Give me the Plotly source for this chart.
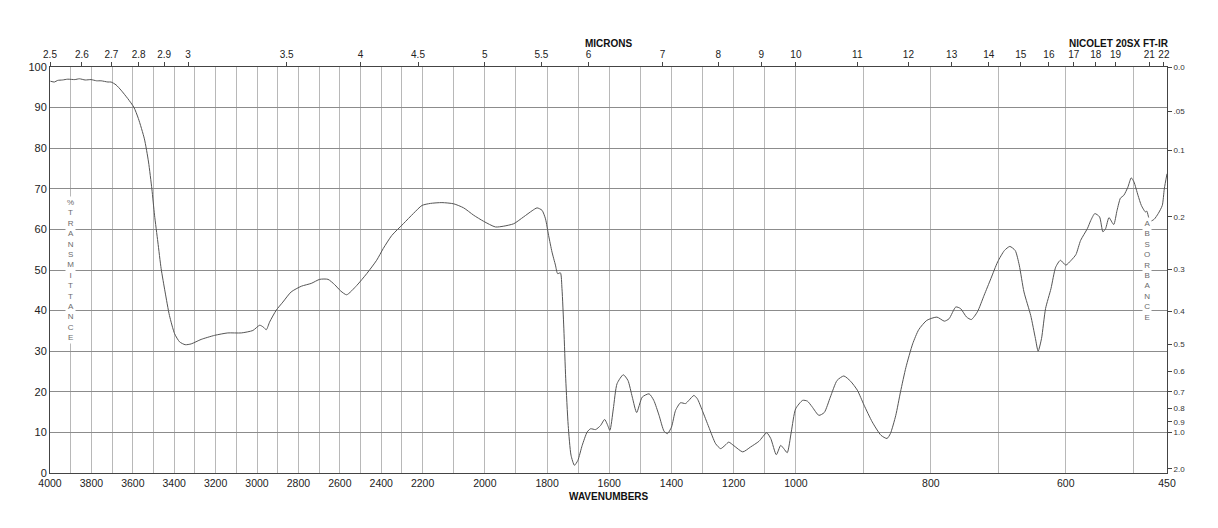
import plotly.graph_objects as go

# ---------------- data ----------------
WAVENUMBER = [
    3998, 3979, 3963, 3940, 3914, 3880, 3858, 3830, 3802, 3775, 3753, 3720, 3705, 3681, 3657,
    3624, 3595, 3573, 3544, 3524, 3508, 3495, 3479, 3463, 3444, 3423, 3398, 3374, 3347, 3318,
    3270, 3205, 3141, 3076, 3020, 2987, 2971, 2955, 2939, 2907, 2875, 2835, 2786, 2738, 2697,
    2657, 2625, 2595, 2567, 2518, 2470, 2422, 2390, 2349, 2293, 2245, 2203, 2175, 2138, 2100,
    2068, 2036, 2004, 1966, 1939, 1907, 1875, 1848, 1832, 1816, 1805, 1795, 1784, 1773, 1766,
    1757, 1752, 1746, 1740, 1732, 1723, 1712, 1701, 1687, 1671, 1660, 1644, 1628, 1615, 1607,
    1598, 1587, 1575, 1555, 1540, 1526, 1512, 1494, 1472, 1457, 1440, 1424, 1413, 1400, 1387,
    1371, 1355, 1344, 1328, 1317, 1301, 1280, 1258, 1242, 1228, 1216, 1199, 1171, 1146, 1119,
    1094, 1081, 1063, 1049, 1039, 1028, 1015, 1001, 990, 983, 976, 966, 958, 949, 939,
    929, 919, 909, 899, 887, 874, 865, 860, 852, 845, 837, 827, 818, 806, 791,
    780, 773, 763, 756, 747, 740, 731, 721, 711, 701, 691, 683, 675, 669, 662,
    652, 645, 641, 636, 630, 622, 615, 608, 600, 592, 585, 578, 568, 563, 557,
    550, 545, 541, 536, 529, 524, 519, 514, 508, 503, 499, 493, 488, 482, 480,
    475, 469, 463, 457, 454, 450,
]
TRANSMITTANCE = [
    96.5, 96.3, 96.7, 96.8, 97.0, 96.9, 97.1, 96.8, 96.9, 96.6, 96.6, 96.3, 96.3, 95.6, 94.3,
    92.2, 90.1, 87.3, 82.3, 76.6, 70.0, 63.5, 56.9, 50.3, 44.6, 38.8, 34.3, 32.3, 31.6, 31.8,
    32.9, 33.9, 34.5, 34.5, 35.1, 36.4, 36.0, 35.3, 37.2, 40.1, 42.1, 44.6, 46.0, 46.7, 47.7,
    47.7, 46.4, 44.8, 43.9, 46.2, 49.1, 52.4, 55.3, 58.5, 61.4, 63.9, 65.9, 66.4, 66.6, 66.3,
    65.3, 63.5, 62.0, 60.6, 60.8, 61.4, 63.1, 64.6, 65.3, 64.7, 62.6, 58.5, 54.4, 51.2, 49.1,
    49.3, 45.4, 35.5, 23.2, 11.7, 4.4, 1.9, 3.1, 6.8, 10.1, 10.9, 10.7, 11.7, 13.2, 12.1,
    10.5, 15.8, 22.0, 24.2, 22.8, 18.7, 14.9, 18.7, 19.5, 17.9, 14.2, 10.3, 9.7, 11.3, 15.4,
    17.3, 17.1, 17.9, 19.1, 18.3, 15.4, 11.3, 7.2, 6.0, 6.8, 7.6, 6.7, 5.2, 6.4, 7.8,
    9.9, 8.5, 4.5, 6.8, 6.0, 5.0, 10.1, 15.8, 17.9, 17.7, 16.3, 14.2, 14.9, 18.7, 22.8,
    23.9, 22.6, 20.4, 16.7, 12.6, 9.3, 8.5, 9.7, 14.2, 20.0, 26.0, 31.8, 35.3, 37.6, 38.4,
    37.4, 38.0, 40.9, 40.5, 38.4, 37.8, 39.7, 43.8, 47.9, 52.0, 54.8, 55.8, 54.8, 51.2, 44.6,
    38.8, 33.1, 30.0, 33.1, 40.5, 45.4, 50.7, 52.4, 51.2, 52.4, 53.8, 57.3, 60.2, 62.2, 63.9,
    63.1, 59.4, 60.2, 62.9, 61.2, 64.7, 67.7, 68.4, 70.4, 72.7, 71.7, 68.4, 65.9, 64.3, 64.5,
    62.0, 62.5, 63.9, 65.9, 70.0, 73.7,
]

WN_GRID = list(range(3900, 2100, -100)) + list(range(2200, 900, -100)) + list(range(900, 400, -100))
WN_LABELS = [4000, 3800, 3600, 3400, 3200, 3000, 2800, 2600, 2400, 2200, 2000,
             1800, 1600, 1400, 1200, 1000, 800, 600, 450]
MICRON_LABELS = ["2.5", "2.6", "2.7", "2.8", "2.9", "3", "3.5", "4", "4.5", "5", "5.5", "6",
                 "7", "8", "9", "10", "11", "12", "13", "14", "15", "16", "17", "18", "19",
                 "21", "22"]
T_TICKS = [0, 10, 20, 30, 40, 50, 60, 70, 80, 90, 100]
ABS_LABELS = ["0.0", ".05", "0.1", "0.2", "0.3", "0.4", "0.5", "0.6", "0.7", "0.8", "0.9",
              "1.0", "2.0"]

# ---------------- piecewise wavenumber scale ----------------
S1, S2, S3 = 0.2068, 0.3108, 0.674


def u(w):
    if w >= 2200:
        return (4000 - w) * S1
    if w >= 1000:
        return 1800 * S1 + (2200 - w) * S2
    return 1800 * S1 + 1200 * S2 + (1000 - w) * S3


U_MAX = u(450)
FONT = "Liberation Sans, Arial, Helvetica, sans-serif"

xs = [u(w) for w in WAVENUMBER]

x_tickvals = sorted(set([u(w) for w in WN_GRID] + [u(w) for w in WN_LABELS]))
x_ticktext = []
for tv in x_tickvals:
    lab = ""
    for w in WN_LABELS:
        if abs(u(w) - tv) < 1e-6:
            lab = str(w)
    x_ticktext.append(lab)

micron_vals = [u(10000.0 / float(m)) for m in MICRON_LABELS]
abs_vals = [100 * 10 ** (-float(a)) for a in ABS_LABELS]

# page body has an 8px margin; the figure is sized to fit inside the window
W, H = 1202, 512
ML, MT = 42, 59
MR = W - (1167 - 8)
MB = H - (473 - 8)
PH = H - MT - MB

fig = go.Figure()
fig.add_trace(go.Scatter(
    x=xs, y=TRANSMITTANCE, mode="lines",
    line=dict(color="#555555", width=1, shape="spline", smoothing=0.6),
    hoverinfo="skip", showlegend=False,
))
# invisible trace to carry the secondary (micron / absorbance) axes
fig.add_trace(go.Scatter(
    x=[0, U_MAX], y=[0, 100], xaxis="x2", yaxis="y2", mode="lines",
    line=dict(width=0), opacity=0, hoverinfo="skip", showlegend=False,
))

fig.update_layout(
    width=W, height=H,
    margin=dict(l=ML, r=MR, t=MT, b=MB, autoexpand=False),
    paper_bgcolor="white", plot_bgcolor="white",
    font=dict(family=FONT, color="#222222"),
    xaxis=dict(
        range=[0, U_MAX], tickmode="array", tickvals=x_tickvals, ticktext=x_ticktext,
        showgrid=True, gridcolor="#b8b8b8", gridwidth=1, zeroline=False,
        showline=True, linecolor="#444444", linewidth=1, mirror=True,
        ticks="", tickfont=dict(size=10.5, color="#222222"),
    ),
    xaxis2=dict(
        range=[0, U_MAX], overlaying="x", side="top", anchor="y",
        tickmode="array", tickvals=micron_vals, ticktext=MICRON_LABELS,
        showgrid=False, zeroline=False, showline=False,
        ticks="outside", ticklen=4, tickcolor="#444444",
        tickfont=dict(size=10, color="#222222"),
    ),
    yaxis=dict(
        range=[0, 100], tickmode="array", tickvals=T_TICKS,
        showgrid=True, gridcolor="#8c8c8c", gridwidth=1, zeroline=False,
        showline=True, linecolor="#444444", linewidth=1, mirror=True,
        ticks="", tickfont=dict(size=11, color="#222222"),
    ),
    yaxis2=dict(
        range=[0, 100], overlaying="y", side="right", anchor="x",
        tickmode="array", tickvals=abs_vals, ticktext=ABS_LABELS,
        showgrid=False, zeroline=False, showline=False,
        ticks="outside", ticklen=4, tickcolor="#444444",
        tickfont=dict(size=8, color="#333333"),
    ),
)

PW = W - ML - MR
top_y = 1 + (67 - 44) / PH
bot_y = -(496 - 473) / PH
fig.add_annotation(text="<b>MICRONS</b>", xref="paper", yref="paper",
                   x=(609 - 50) / PW, y=top_y, xanchor="center", yanchor="middle",
                   showarrow=False, font=dict(size=10, color="#111111"))
fig.add_annotation(text="<b>NICOLET 20SX FT-IR</b>", xref="paper", yref="paper",
                   x=(1119 - 50) / PW, y=top_y, xanchor="center", yanchor="middle",
                   showarrow=False, font=dict(size=10, color="#111111"))
fig.add_annotation(text="<b>WAVENUMBERS</b>", xref="paper", yref="paper",
                   x=(609 - 50) / PW, y=bot_y, xanchor="center", yanchor="middle",
                   showarrow=False, font=dict(size=10, color="#111111"))
fig.add_annotation(text="<br>".join(list("%TRANSMITTANCE")), xref="x", yref="y",
                   x=u(3900), y=50, showarrow=False, bgcolor="white", borderpad=1,
                   xanchor="center", yanchor="middle",
                   font=dict(size=8, color="#6a6a6a"))
fig.add_annotation(text="<br>".join(list("ABSORBANCE")), xref="x", yref="y",
                   x=u(479), y=50, showarrow=False, bgcolor="white", borderpad=1,
                   xanchor="center", yanchor="middle",
                   font=dict(size=8, color="#6a6a6a"))

fig.write_html("out.html")
